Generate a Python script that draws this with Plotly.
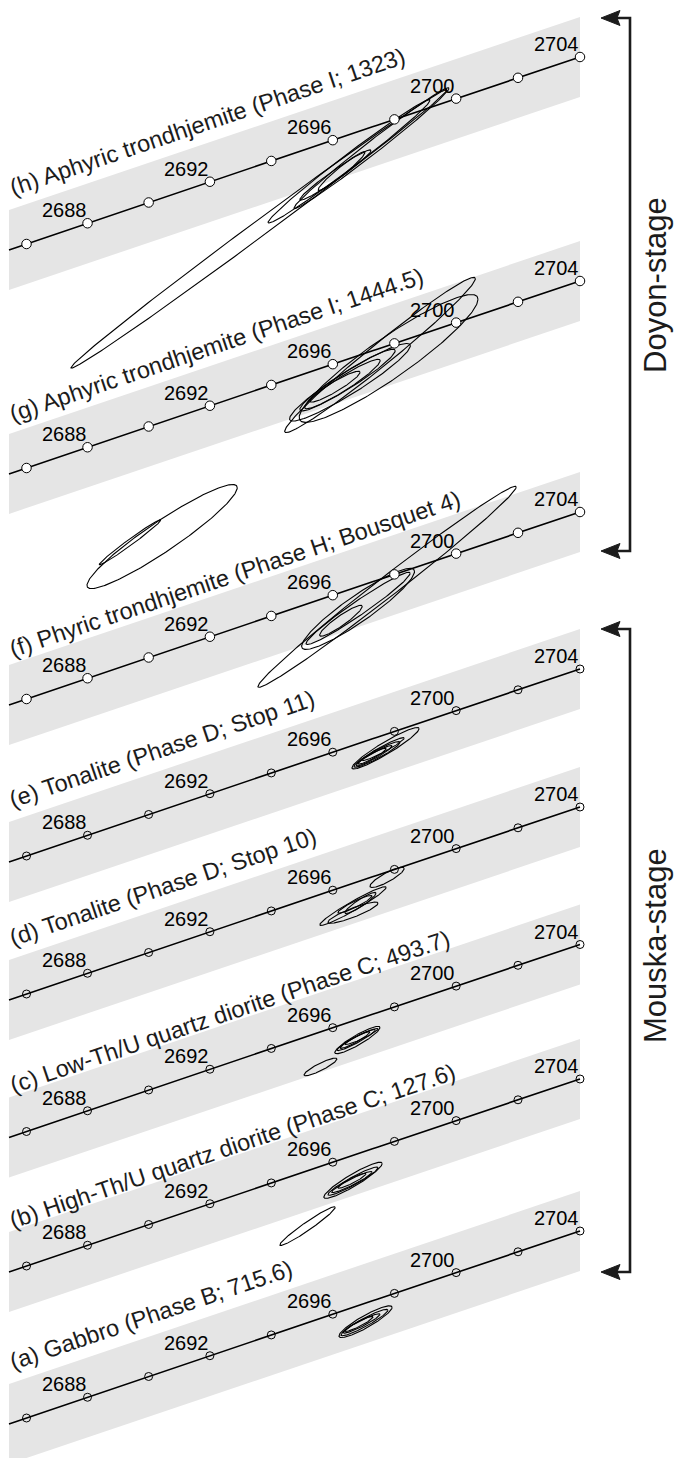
import numpy as np
import plotly.graph_objects as go

# U decay constants (per Ma)
L238 = 1.55125e-4
L235 = 9.8485e-4


def concordia(t):
    t = np.asarray(t, dtype=float)
    return np.expm1(L235 * t), np.expm1(L238 * t)


# ---------------------------------------------------------------- data
panel_ids = ["a", "b", "c", "d", "e", "f", "g", "h"]
panel_titles = [
    "(a) Gabbro (Phase B; 715.6)",
    "(b) High-Th/U quartz diorite (Phase C; 127.6)",
    "(c) Low-Th/U quartz diorite (Phase C; 493.7)",
    "(d) Tonalite (Phase D; Stop 10)",
    "(e) Tonalite (Phase D; Stop 11)",
    "(f) Phyric trondhjemite (Phase H; Bousquet 4)",
    "(g) Aphyric trondhjemite (Phase I; 1444.5)",
    "(h) Aphyric trondhjemite (Phase I; 1323)",
]
tick_ages = [2686, 2688, 2690, 2692, 2694, 2696, 2698, 2700, 2702, 2704]
label_ages = [2688, 2692, 2696, 2700, 2704]
stage_names = ["Doyon-stage", "Mouska-stage"]

# zircon analyses: 207Pb/235U, 2s, 206Pb/238U, 2s, rho
ellipses_a = [
    (13.2421, 0.0121, 0.51908, 0.00036, 0.902),
    (13.2416, 0.0107, 0.51906, 0.00030, 0.937),
    (13.2403, 0.0084, 0.51904, 0.00022, 0.940),
    (13.2391, 0.0064, 0.51903, 0.00017, 0.925),
]
ellipses_b = [
    (13.2364, 0.0133, 0.51884, 0.00041, 0.925),
    (13.2364, 0.0114, 0.51882, 0.00032, 0.946),
    (13.2359, 0.0092, 0.51880, 0.00024, 0.946),
    (13.2359, 0.0064, 0.51883, 0.00017, 0.925),
    (13.2157, 0.0126, 0.51780, 0.00044, 0.967),
]
ellipses_c = [
    (13.2384, 0.0103, 0.51897, 0.00031, 0.910),
    (13.2378, 0.0087, 0.51897, 0.00024, 0.945),
    (13.2373, 0.0068, 0.51897, 0.00019, 0.940),
    (13.2403, 0.0075, 0.51905, 0.00018, 0.940),
    (13.2216, 0.0075, 0.51836, 0.00020, 0.893),
]
ellipses_d = [
    (13.2519, 0.0078, 0.51954, 0.00023, 0.866),
    (13.2364, 0.0151, 0.51889, 0.00044, 0.963),
    (13.2364, 0.0114, 0.51874, 0.00024, 0.888),
    (13.2398, 0.0071, 0.51896, 0.00024, 0.918),
    (13.2373, 0.0078, 0.51893, 0.00020, 0.926),
]
ellipses_e = [
    (13.2512, 0.0153, 0.51934, 0.00047, 0.943),
    (13.2473, 0.0105, 0.51920, 0.00029, 0.936),
    (13.2460, 0.0082, 0.51917, 0.00023, 0.946),
    (13.2451, 0.0064, 0.51916, 0.00018, 0.932),
    (13.2501, 0.0096, 0.51932, 0.00026, 0.955),
]
ellipses_f = [
    (13.2519, 0.0588, 0.51944, 0.00228, 0.992),
    (13.2387, 0.0257, 0.51894, 0.00092, 0.922),
    (13.2387, 0.0237, 0.51895, 0.00082, 0.972),
    (13.2309, 0.0097, 0.51867, 0.00035, 0.922),
    (13.1495, 0.0342, 0.52058, 0.00118, 0.938),
    (13.1349, 0.0140, 0.52045, 0.00051, 0.987),
]
ellipses_g = [
    (13.2487, 0.0434, 0.51946, 0.00176, 0.983),
    (13.2526, 0.0407, 0.51938, 0.00145, 0.925),
    (13.2350, 0.0275, 0.51884, 0.00088, 0.942),
    (13.2316, 0.0172, 0.51880, 0.00056, 0.943),
    (13.2282, 0.0114, 0.51874, 0.00035, 0.928),
    (13.2339, 0.0217, 0.51889, 0.00070, 0.950),
]
ellipses_h = [
    (13.1936, 0.0856, 0.51724, 0.00316, 0.9975),
    (13.2346, 0.0369, 0.51877, 0.00140, 0.990),
    (13.2448, 0.0353, 0.51907, 0.00137, 0.991),
    (13.2284, 0.0162, 0.51846, 0.00057, 0.973),
    (13.2312, 0.0107, 0.51855, 0.00044, 0.963),
]
panel_ellipses = [ellipses_a, ellipses_b, ellipses_c, ellipses_d,
                  ellipses_e, ellipses_f, ellipses_g, ellipses_h]

# ---------------------------------------------------------------- layout
W, H = 677, 1458
AGE_LO, AGE_HI = tick_ages[0], tick_ages[-1]
PX_LO, PX_HI = 26.5, 580.0          # screen x of the first / last tick
DROP_PX = 187.0                     # screen drop of the concordia over the window
panel_anchor_px = [1231, 1079, 944.5, 807, 669, 512, 281, 57]  # screen y of last tick
BAND_LEFT_PX = 9
BAND_HALF_PX = 40
title_gap_px = [8, -2, -2, 8, 8, 2, 6, 8]   # title lift above each strip
open_ticks = [True, True, True, True, True, False, False, False]

FONT = "Arial, 'Liberation Sans', Helvetica, sans-serif"
BAND_COLOR = "#e5e5e5"
INK = "#1c1c1c"

xa, ya = concordia(AGE_LO)
xb, yb = concordia(AGE_HI)
kx = (PX_HI - PX_LO) / (xb - xa)
ky = DROP_PX / (yb - ya)
x_range = [xa - PX_LO / kx, xa + (W - PX_LO) / kx]
chord = (yb - ya) / (xb - xa)
slope_px = DROP_PX / (PX_HI - PX_LO)
theta = np.arctan(slope_px)


def y_range(anchor):
    return [yb - (H - anchor) / ky, yb + anchor / ky]


def ellipse_xy(cx, sx, cy, sy, rho, n=241):
    phi = np.linspace(0, 2 * np.pi, n)
    x = cx + sx * np.cos(phi)
    y = cy + sy * (rho * np.cos(phi) + np.sqrt(1 - rho ** 2) * np.sin(phi))
    return x, y


fig = go.Figure()
layout_axes = {}
annotations = []

x_left = x_range[0] + BAND_LEFT_PX / kx
t_left = np.log1p(x_left) / L235

for i, pid in enumerate(panel_ids):
    yname = "y" if i == 0 else f"y{i + 1}"
    ykey = "yaxis" if i == 0 else f"yaxis{i + 1}"
    ax = dict(range=y_range(panel_anchor_px[i]), visible=False, fixedrange=True,
              domain=[0, 1])
    if i > 0:
        ax["overlaying"] = "y"
    layout_axes[ykey] = ax

    # shaded panel strip, parallel to the concordia
    d = BAND_HALF_PX / ky
    bx = np.array([x_left, xb, xb, x_left, x_left])
    base = yb + chord * (bx - xb)
    by = base + np.array([d, d, -d, -d, d])
    fig.add_trace(go.Scatter(x=bx, y=by, yaxis=yname, mode="lines", fill="toself",
                             fillcolor=BAND_COLOR, line=dict(width=0),
                             hoverinfo="skip"))

for i, pid in enumerate(panel_ids):
    yname = "y" if i == 0 else f"y{i + 1}"
    yref = yname

    # concordia curve
    ages = np.linspace(t_left, AGE_HI, 120)
    cxs, cys = concordia(ages)
    fig.add_trace(go.Scatter(x=cxs, y=cys, yaxis=yname, mode="lines",
                             line=dict(color="black", width=1.6), hoverinfo="skip"))

    # analyses
    for (cx, sx, cy, sy, rho) in panel_ellipses[i]:
        ex, ey = ellipse_xy(cx, sx, cy, sy, rho)
        fig.add_trace(go.Scatter(x=ex, y=ey, yaxis=yname, mode="lines",
                                 line=dict(color="black", width=1.1),
                                 hoverinfo="skip"))

    # age ticks
    tx, ty = concordia(tick_ages)
    if open_ticks[i]:
        marker = dict(symbol="circle-open", size=8, color="black",
                      line=dict(width=1))
    else:
        marker = dict(symbol="circle", size=9.5, color="white",
                      line=dict(color="black", width=1))
    fig.add_trace(go.Scatter(x=tx, y=ty, yaxis=yname, mode="markers",
                             marker=marker, hoverinfo="skip"))

    lx, ly = concordia(label_ages)
    for age, x_, y_ in zip(label_ages, lx, ly):
        annotations.append(dict(x=x_, y=y_, xref="x", yref=yref, text=str(age),
                                showarrow=False, xanchor="right", yanchor="bottom",
                                xshift=1, yshift=0,
                                font=dict(family=FONT, size=20, color="black")))

    # panel title, running along the strip's upper edge
    sx_px = 13.0
    sy_px = (panel_anchor_px[i] + (PX_HI - sx_px) * slope_px
             - BAND_HALF_PX - title_gap_px[i])
    box_h = 28.0
    annotations.append(dict(x=(sx_px - box_h * np.sin(theta)) / W, y=1 - (sy_px + 3) / H,
                            xref="paper", yref="paper", text=panel_titles[i],
                            showarrow=False, xanchor="left", yanchor="bottom",
                            textangle=-np.degrees(theta),
                            font=dict(family=FONT, size=23.5, color=INK)))

# stage brackets
shapes = []
BR_X = 630
brackets = [(18, 551, 285), (629, 1272, 946)]


def px(x):
    return x / W


def py(y):
    return 1 - y / H


for (top, bot, mid), name in zip(brackets, stage_names):
    shapes.append(dict(type="path", xref="paper", yref="paper",
                       path=f"M {px(616)},{py(top)} L {px(BR_X)},{py(top)} "
                            f"L {px(BR_X)},{py(bot)} L {px(616)},{py(bot)}",
                       line=dict(color=INK, width=2.6)))
    for yy in (top, bot):
        shapes.append(dict(type="path", xref="paper", yref="paper",
                           path=f"M {px(601)},{py(yy)} L {px(620)},{py(yy - 7.5)} "
                                f"L {px(617)},{py(yy)} L {px(620)},{py(yy + 7.5)} Z",
                           fillcolor=INK, line=dict(color=INK, width=1)))
    annotations.append(dict(x=px(655), y=py(mid), xref="paper", yref="paper",
                            text=name, showarrow=False, textangle=-90,
                            xanchor="center", yanchor="middle",
                            font=dict(family=FONT, size=31, color=INK)))

fig.update_layout(
    width=W, height=H,
    margin=dict(l=0, r=0, t=0, b=0),
    paper_bgcolor="white", plot_bgcolor="white",
    showlegend=False,
    xaxis=dict(range=x_range, visible=False, fixedrange=True, domain=[0, 1]),
    annotations=annotations,
    shapes=shapes,
    **layout_axes,
)

fig.write_html("out.html")
